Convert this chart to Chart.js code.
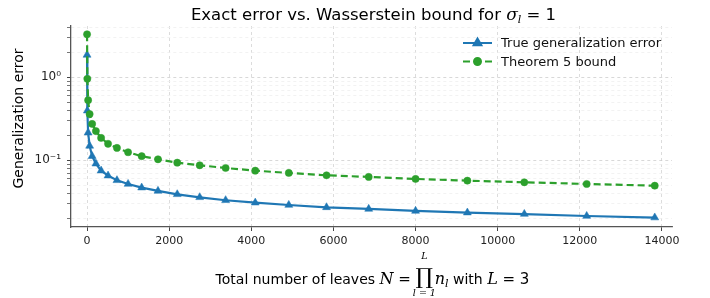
<!DOCTYPE html>
<html>
<head>
<meta charset="utf-8">
<script src="https://cdn.jsdelivr.net/npm/chart.js@4.4.1/dist/chart.umd.min.js"></script>
<style>
  html, body { margin: 0; padding: 0; background: #fff; }
</style>
</head>
<body>
<canvas id="chart" width="710" height="298"></canvas>
<script>
// N = n^3 leaves, n = 1..24
const leaves = [1, 8, 27, 64, 125, 216, 343, 512, 729, 1000, 1331, 1728, 2197, 2744, 3375, 4096, 4913, 5832, 6859, 8000, 9261, 10648, 12167, 13824];
const trueError = [1.86, 0.396, 0.215, 0.149, 0.112, 0.091, 0.075, 0.0653, 0.0574, 0.0518, 0.0468, 0.0427, 0.0389, 0.0358, 0.0330, 0.0308, 0.0289, 0.0271, 0.0259, 0.0245, 0.0234, 0.0225, 0.0213, 0.0204];
const boundT5 = [3.3, 0.96, 0.53, 0.36, 0.274, 0.225, 0.186, 0.158, 0.141, 0.125, 0.112, 0.1028, 0.0936, 0.087, 0.0807, 0.075, 0.0703, 0.0659, 0.063, 0.0596, 0.0568, 0.0543, 0.0518, 0.0494];

const xTicks = [0, 2000, 4000, 6000, 8000, 10000, 12000, 14000];
const yTicks = [0.02, 0.03, 0.04, 0.05, 0.06, 0.07, 0.08, 0.09, 0.1, 0.2, 0.3, 0.4, 0.5, 0.6, 0.7, 0.8, 0.9, 1, 2, 3, 4];
const yMajor = [0.1, 1];
const yLabels = { '0.1': '10\u207B\u00B9', '1': '10\u2070' };

const seriesNames = ['True generalization error', 'Theorem 5 bound'];
const BLUE = '#1f77b4';
const GREEN = '#2ca02c';
const SANS = '"DejaVu Sans", sans-serif';
const SERIF = '"DejaVu Serif", "Liberation Serif", serif';

// draw a row of text pieces centered on cx
function drawPieces(ctx, pieces, cx, y) {
  let total = 0;
  pieces.forEach(p => { ctx.font = p.font; p.w = ctx.measureText(p.text).width; total += p.w; });
  let x = cx - total / 2;
  pieces.forEach(p => {
    ctx.font = p.font;
    ctx.textAlign = 'left';
    ctx.fillText(p.text, x, y + (p.dy || 0));
    if (p.above) { ctx.font = p.smallFont; ctx.textAlign = 'center'; ctx.fillText(p.above, x + p.w / 2, y + p.aboveDy); }
    if (p.below) { ctx.font = p.smallFont; ctx.textAlign = 'center'; ctx.fillText(p.below, x + p.w / 2, y + p.belowDy); }
    x += p.w;
  });
}

const textPlugin = {
  id: 'texts',
  afterDraw(chart) {
    const ctx = chart.ctx;
    const area = chart.chartArea;
    const cx = (area.left + area.right) / 2;
    ctx.save();
    ctx.fillStyle = '#000';
    ctx.textBaseline = 'alphabetic';

    // title
    drawPieces(ctx, [
      { text: 'Exact error vs. Wasserstein bound for ', font: '16.5px ' + SANS },
      { text: '\u03C3', font: 'italic 17px ' + SERIF },
      { text: 'l', font: 'italic 11px ' + SERIF, dy: 3 },
      { text: ' = 1', font: '16.5px ' + SANS }
    ], cx + 2, 20);

    // x axis label
    drawPieces(ctx, [
      { text: 'Total number of leaves ', font: '14px ' + SANS },
      { text: 'N', font: 'italic 16px ' + SERIF },
      { text: ' = ', font: '15px ' + SANS },
      { text: '\u220F', font: '22px ' + SERIF, dy: 0, above: 'L', below: 'l = 1', smallFont: 'italic 9.5px ' + SERIF, aboveDy: -25, belowDy: 11.5 },
      { text: ' ', font: '5px ' + SERIF },
      { text: 'n', font: 'italic 16px ' + SERIF },
      { text: 'l', font: 'italic 11px ' + SERIF, dy: 3 },
      { text: ' with ', font: '14px ' + SANS },
      { text: 'L', font: 'italic 16px ' + SERIF },
      { text: ' = 3', font: '15px ' + SANS }
    ], cx + 1, 284);

    // y axis label
    ctx.translate(23, (area.top + area.bottom) / 2 - 8);
    ctx.rotate(-Math.PI / 2);
    ctx.font = '14px ' + SANS;
    ctx.textAlign = 'center';
    ctx.fillText('Generalization error', 0, 0);
    ctx.restore();

    // legend
    ctx.save();
    const lx = 463, lw = 29;
    const rows = [
      { y: 43, color: BLUE, dash: [], style: 'triangle', r: 4.5 },
      { y: 61.5, color: GREEN, dash: [7, 4], style: 'circle', r: 3.5 }
    ];
    rows.forEach((row, i) => {
      ctx.strokeStyle = row.color;
      ctx.lineWidth = 2;
      ctx.setLineDash(row.dash);
      ctx.beginPath();
      ctx.moveTo(lx, row.y);
      ctx.lineTo(lx + lw, row.y);
      ctx.stroke();
      ctx.setLineDash([]);
      ctx.fillStyle = row.color;
      Chart.helpers.drawPoint(ctx, { pointStyle: row.style, radius: row.r, borderWidth: 0.5 }, lx + lw / 2, row.y);
      ctx.fill();
      ctx.fillStyle = '#111';
      ctx.font = '13px ' + SANS;
      ctx.textAlign = 'left';
      ctx.textBaseline = 'middle';
      ctx.fillText(seriesNames[i], 501, row.y + 1);
    });
    ctx.restore();
  }
};

new Chart(document.getElementById('chart'), {
  type: 'line',
  data: {
    datasets: [
      {
        label: seriesNames[0],
        data: leaves.map((n, i) => ({ x: n, y: trueError[i] })),
        borderColor: BLUE,
        backgroundColor: BLUE,
        pointBackgroundColor: BLUE,
        pointBorderColor: BLUE,
        borderWidth: 2.2,
        pointStyle: 'triangle',
        pointRadius: 4.6,
        pointBorderWidth: 0.5,
        tension: 0,
        order: 1
      },
      {
        label: seriesNames[1],
        data: leaves.map((n, i) => ({ x: n, y: boundT5[i] })),
        borderColor: GREEN,
        backgroundColor: GREEN,
        pointBackgroundColor: GREEN,
        pointBorderColor: GREEN,
        borderWidth: 2.2,
        borderDash: [7, 4],
        pointStyle: 'circle',
        pointRadius: 3.6,
        pointBorderWidth: 0.5,
        tension: 0,
        order: 0
      }
    ]
  },
  options: {
    responsive: false,
    animation: false,
    layout: { padding: { left: 0, right: 38, top: 26, bottom: 0 } },
    plugins: {
      legend: { display: false },
      title: { display: false },
      tooltip: { enabled: false }
    },
    scales: {
      x: {
        type: 'linear',
        min: -390,
        max: 14244,
        afterBuildTicks: s => { s.ticks = xTicks.map(v => ({ value: v })); },
        afterFit: s => { s.height = 71; },
        ticks: {
          autoSkip: false,
          maxRotation: 0,
          padding: 4,
          color: '#222',
          font: { family: SANS, size: 11 },
          callback: v => String(v)
        },
        grid: {
          color: '#d4d4d4',
          lineWidth: 0.8,
          tickLength: 4,
          tickColor: '#444',
          tickWidth: 1
        },
        border: { display: true, color: '#555', width: 1.3, dash: [3, 3] }
      },
      y: {
        type: 'logarithmic',
        min: 0.0157,
        max: 4.15,
        afterBuildTicks: s => { s.ticks = yTicks.map(v => ({ value: v })); },
        afterFit: s => { s.width = 71; },
        ticks: {
          autoSkip: false,
          padding: 6,
          color: '#222',
          font: { family: SANS, size: 12 },
          callback: v => yLabels[String(v)] || ''
        },
        grid: {
          color: c => (c.tick && yMajor.includes(c.tick.value)) ? '#cfcfcf' : '#efefef',
          lineWidth: 0.8,
          tickLength: 4,
          tickColor: c => (c.tick && yMajor.includes(c.tick.value)) ? '#444' : '#777',
          tickWidth: 1
        },
        border: { display: true, color: '#555', width: 1.3, dash: [3, 3] }
      }
    }
  },
  plugins: [textPlugin]
});
</script>
</body>
</html>
